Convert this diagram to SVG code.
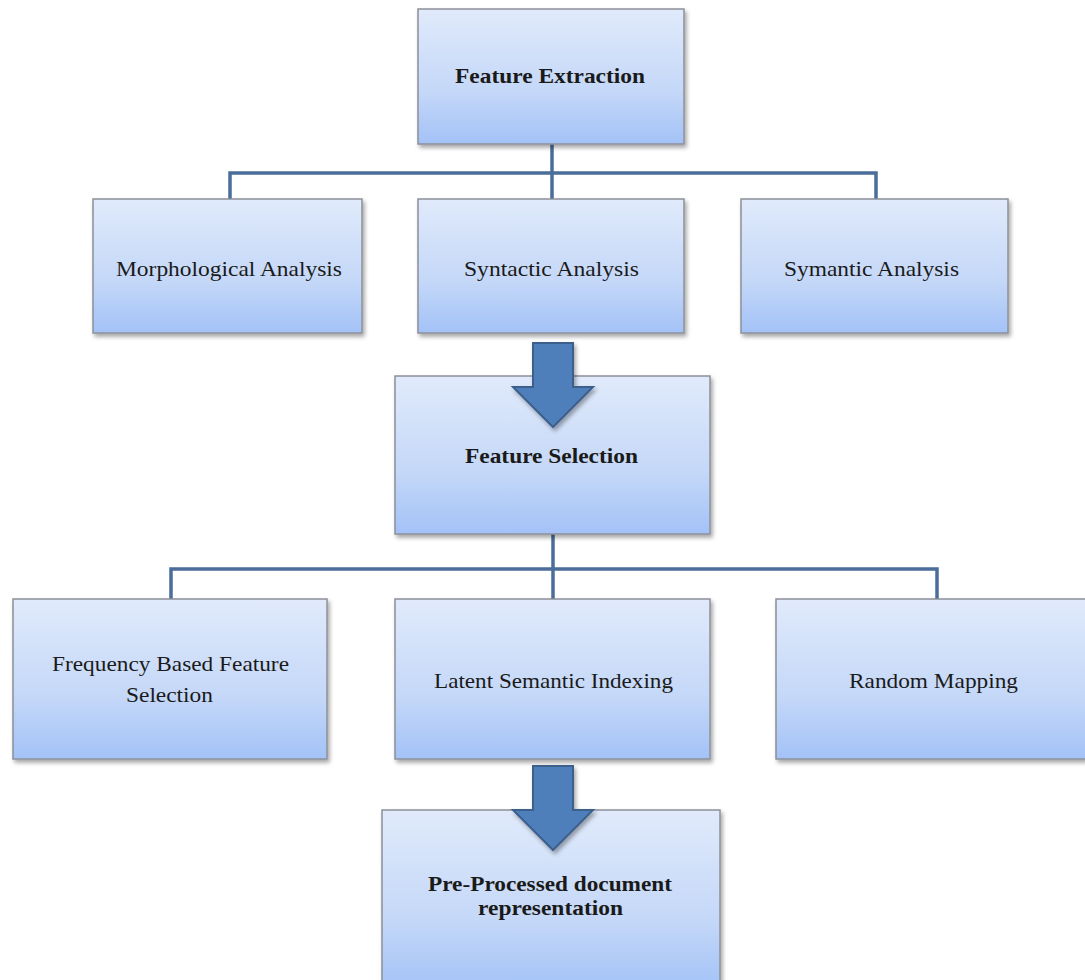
<svg xmlns="http://www.w3.org/2000/svg" width="1085" height="980" viewBox="0 0 1085 980">
<defs>
<linearGradient id="g" x1="0" y1="0" x2="0" y2="1">
<stop offset="0" stop-color="#e0eafb"/>
<stop offset="0.6" stop-color="#c5d8f8"/>
<stop offset="1" stop-color="#a3c2f7"/>
</linearGradient>
<filter id="sh" x="-10%" y="-10%" width="120%" height="125%">
<feDropShadow dx="2" dy="3" stdDeviation="2" flood-color="#000" flood-opacity="0.35"/>
</filter>
</defs>
<style>
.box{fill:url(#g);stroke:#8c9099;stroke-width:1.5;filter:url(#sh)}
.t{font-family:"Liberation Serif","Times New Roman",serif;font-size:21px;fill:#1a1a1a;text-anchor:middle}
.b{font-weight:bold;font-size:21px}
.c{fill:none;stroke:#4a6d99;stroke-width:3.5}
.arr{fill:#4f7fbb;stroke:#3c5f8c;stroke-width:2;filter:url(#sh)}
</style>
<rect width="1085" height="980" fill="#fff"/>
<g id="connectors">
<path class="c" d="M552 144V199M230 199V173H876V199"/>
<path class="c" d="M553 534V600M171 600V569H937V600"/>
</g>
<g id="n-extraction"><rect class="box" x="418" y="9" width="266" height="135"/><text class="t b" x="550" y="83" textLength="190" lengthAdjust="spacingAndGlyphs">Feature Extraction</text></g>
<g id="n-morph"><rect class="box" x="93" y="199" width="269" height="134"/><text class="t" x="229" y="276" textLength="226" lengthAdjust="spacingAndGlyphs">Morphological Analysis</text></g>
<g id="n-syntactic"><rect class="box" x="418" y="199" width="266" height="134"/><text class="t" x="551.5" y="276" textLength="175" lengthAdjust="spacingAndGlyphs">Syntactic Analysis</text></g>
<g id="n-symantic"><rect class="box" x="741" y="199" width="267" height="134"/><text class="t" x="871.5" y="276" textLength="175" lengthAdjust="spacingAndGlyphs">Symantic Analysis</text></g>
<g id="n-selection"><rect class="box" x="395" y="376" width="315" height="158"/><text class="t b" x="551.5" y="463" textLength="173" lengthAdjust="spacingAndGlyphs">Feature Selection</text></g>
<g id="arrow1"><path class="arr" d="M533 343H573V387H593L553 427L513 387H533Z"/></g>
<g id="n-frequency"><rect class="box" x="13" y="599" width="314" height="160"/><text class="t" x="170.5" y="671" textLength="237" lengthAdjust="spacingAndGlyphs">Frequency Based Feature</text><text class="t" x="169.5" y="702" textLength="87" lengthAdjust="spacingAndGlyphs">Selection</text></g>
<g id="n-lsi"><rect class="box" x="395" y="599" width="315" height="160"/><text class="t" x="553.5" y="688" textLength="239" lengthAdjust="spacingAndGlyphs">Latent Semantic Indexing</text></g>
<g id="n-random"><rect class="box" x="776" y="599" width="310" height="160"/><text class="t" x="933.5" y="688" textLength="169" lengthAdjust="spacingAndGlyphs">Random Mapping</text></g>
<g id="n-preprocessed"><rect class="box" x="382" y="810" width="338" height="180"/><text class="t b" x="550" y="891" textLength="244" lengthAdjust="spacingAndGlyphs">Pre-Processed document</text><text class="t b" x="550.5" y="915" textLength="145" lengthAdjust="spacingAndGlyphs">representation</text></g>
<g id="arrow2"><path class="arr" d="M533 766H573V810H593L553 850L513 810H533Z"/></g>
</svg>
